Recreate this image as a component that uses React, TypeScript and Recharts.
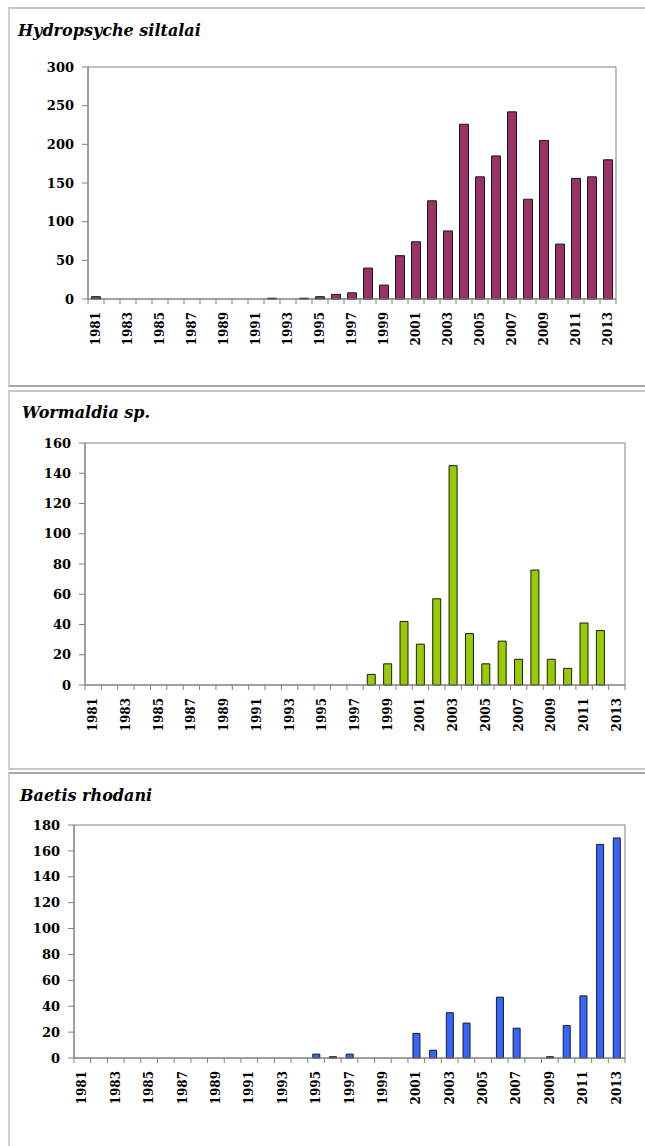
import React from "react";
import { BarChart, Bar, XAxis, YAxis, ReferenceArea } from "recharts";

const years = [
  "1981", "1982", "1983", "1984", "1985", "1986", "1987", "1988", "1989", "1990", "1991",
  "1992", "1993", "1994", "1995", "1996", "1997", "1998", "1999", "2000", "2001", "2002",
  "2003", "2004", "2005", "2006", "2007", "2008", "2009", "2010", "2011", "2012", "2013",
];

const hydropsyche = [
  3, 0, 0, 0, 0, 0, 0, 0, 0, 0, 0,
  1, 0, 1, 3, 6, 8, 40, 18, 56, 74, 127,
  88, 226, 158, 185, 242, 129, 205, 71, 156, 158, 180,
];

const wormaldia = [
  0, 0, 0, 0, 0, 0, 0, 0, 0, 0, 0,
  0, 0, 0, 0, 0, 0, 7, 14, 42, 27, 57,
  145, 34, 14, 29, 17, 76, 17, 11, 41, 36, 0,
];

const baetis = [
  0, 0, 0, 0, 0, 0, 0, 0, 0, 0, 0,
  0, 0, 0, 3, 1, 3, 0, 0, 0, 19, 6,
  35, 27, 0, 47, 23, 0, 1, 25, 48, 165, 170,
];

const hydroTicks = [0, 50, 100, 150, 200, 250, 300];
const wormTicks = [0, 20, 40, 60, 80, 100, 120, 140, 160];
const baetisTicks = [0, 20, 40, 60, 80, 100, 120, 140, 160, 180];

const AXIS = "#808080";
const SERIF = "'DejaVu Serif', 'Liberation Serif', serif";

type PanelProps = {
  title: string;
  values: number[];
  ticks: number[];
  color: string;
  top: number;
  height: number;
  plotLeft: number;
  plotRight: number;
  plotTop: number;
  plotBottom: number;
  gap: string;
  titleTop: number;
  titleLeft: number;
};

const Panel = (p: PanelProps) => {
  const data = years.map((y, i) => ({ year: y, v: p.values[i] }));
  const band = (p.plotRight - p.plotLeft) / years.length;
  const xAxisH = 60;
  const marginBottom = p.height - p.plotBottom - xAxisH;
  const maxY = p.ticks[p.ticks.length - 1];

  const YearTick = (props: any) => {
    const { x, y, payload } = props;
    const ty = y + 13;
    return (
      <g>
        <line x1={x - band / 2} x2={x - band / 2} y1={y} y2={y + 5} stroke={AXIS} />
        <line x1={x + band / 2} x2={x + band / 2} y1={y} y2={y + 5} stroke={AXIS} />
        <text
          x={x}
          y={ty}
          transform={`rotate(-90 ${x} ${ty})`}
          textAnchor="end"
          dominantBaseline="central"
          fontSize={12}
          fontWeight="bold"
          fontFamily={SERIF}
          fill="#000"
        >
          {payload.value}
        </text>
      </g>
    );
  };

  return (
    <div style={{ position: "absolute", left: 0, top: p.top, width: 645, height: p.height }}>
      <div
        style={{
          position: "absolute",
          left: p.titleLeft,
          top: p.titleTop,
          fontFamily: SERIF,
          fontStyle: "italic",
          fontWeight: "bold",
          fontSize: 16,
          lineHeight: "16px",
          color: "#000",
          whiteSpace: "nowrap",
        }}
      >
        {p.title}
      </div>
      <div style={{ position: "absolute", left: 0, top: 0 }}>
        <BarChart
          width={645}
          height={p.height}
          data={data}
          barCategoryGap={p.gap}
          margin={{ top: p.plotTop, right: 645 - p.plotRight, left: 0, bottom: marginBottom }}
        >
          <XAxis
            dataKey="year"
            interval={1}
            height={xAxisH}
            tickSize={0}
            tickMargin={0}
            tickLine={false}
            axisLine={{ stroke: AXIS }}
            tick={<YearTick />}
          />
          <YAxis
            width={p.plotLeft}
            domain={[0, maxY]}
            ticks={p.ticks}
            interval={0}
            tickSize={6}
            tickMargin={8}
            axisLine={{ stroke: AXIS }}
            tickLine={{ stroke: AXIS }}
            tick={{ fontSize: 13, fontWeight: "bold", fill: "#000", fontFamily: SERIF }}
          />
          <ReferenceArea y1={0} y2={maxY} fill="none" stroke={AXIS} strokeWidth={1} />
          <Bar dataKey="v" fill={p.color} stroke="#1a1a1a" strokeWidth={1} isAnimationActive={false} />
        </BarChart>
      </div>
    </div>
  );
};

export default function App() {
  return (
    <div
      style={{
        position: "absolute",
        left: 0,
        top: 0,
        width: 645,
        height: 1146,
        background: "#fff",
        overflow: "hidden",
      }}
    >
      <div style={{ position: "absolute", left: 8, top: 7, width: 640, height: 376, borderTop: "2px solid #c8c8c8", borderLeft: "2px solid #d0d0d0", borderBottom: "2px solid #a8a8a8" }} />
      <div style={{ position: "absolute", left: 8, top: 390, width: 640, height: 376, borderTop: "2px solid #c8c8c8", borderLeft: "2px solid #d0d0d0", borderBottom: "2px solid #c8c8c8" }} />
      <div style={{ position: "absolute", left: 8, top: 772, width: 640, height: 380, borderTop: "2px solid #a8a8a8", borderLeft: "2px solid #d0d0d0" }} />

      <Panel
        title="Hydropsyche siltalai"
        values={hydropsyche}
        ticks={hydroTicks}
        color="#993366"
        top={0}
        height={385}
        plotLeft={88}
        plotRight={616}
        plotTop={67}
        plotBottom={299}
        gap="22%"
        titleTop={23}
        titleLeft={18}
      />
      <Panel
        title="Wormaldia sp."
        values={wormaldia}
        ticks={wormTicks}
        color="#99CC00"
        top={385}
        height={385}
        plotLeft={85}
        plotRight={625}
        plotTop={58}
        plotBottom={300}
        gap="25%"
        titleTop={20}
        titleLeft={22}
      />
      <Panel
        title="Baetis rhodani"
        values={baetis}
        ticks={baetisTicks}
        color="#3366FF"
        top={770}
        height={376}
        plotLeft={74}
        plotRight={625}
        plotTop={55}
        plotBottom={288}
        gap="30%"
        titleTop={18}
        titleLeft={20}
      />
    </div>
  );
}
